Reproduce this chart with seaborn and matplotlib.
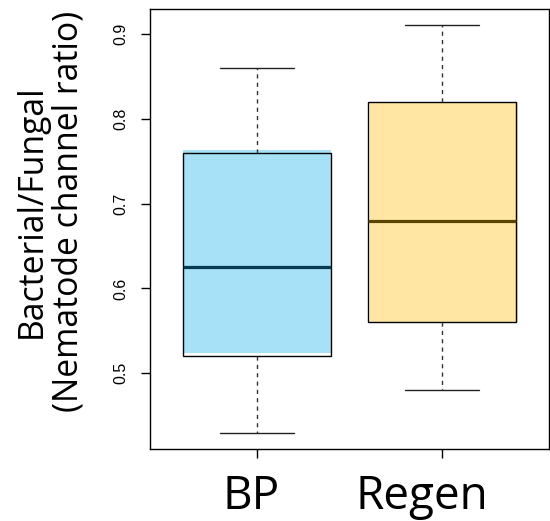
import numpy as np
import pandas as pd
import matplotlib
matplotlib.use("Agg")
import matplotlib.pyplot as plt
import matplotlib.transforms as mtransforms
from matplotlib.patches import PathPatch
import seaborn as sns

# Five-number summaries per site (min, Q1, median, Q3, max)
groups = ["BP", "Regen"]
bp_values = [0.43, 0.52, 0.625, 0.76, 0.86]
regen_values = [0.48, 0.56, 0.68, 0.82, 0.91]
fill_colors = ["#A6E1F8", "#FFE6A3"]
median_colors = ["#083A52", "#5A4300"]
y_ticks = [0.5, 0.6, 0.7, 0.8, 0.9]

df = pd.DataFrame({
    "site": ["BP"] * len(bp_values) + ["Regen"] * len(regen_values),
    "ratio": bp_values + regen_values,
})

sns.set_theme(style="white")
plt.rcParams["font.family"] = ["Open Sans", "DejaVu Sans"]
plt.rcParams["text.color"] = "black"
plt.rcParams["axes.labelcolor"] = "black"
plt.rcParams["xtick.color"] = "black"
plt.rcParams["ytick.color"] = "black"

fig = plt.figure(figsize=(5.5, 5.21), dpi=100)
ax = fig.add_axes([150 / 550, 1 - 449 / 521, 399 / 550, 440 / 521])

sns.boxplot(
    data=df, x="site", y="ratio", hue="site",
    order=groups, hue_order=groups, palette=fill_colors,
    width=0.8, saturation=1, linecolor="black", linewidth=1,
    showfliers=False, legend=False, ax=ax,
    whiskerprops=dict(linestyle=(0, (3, 3)), color="#333333", linewidth=1),
    capprops=dict(color="#222222", linewidth=1),
    boxprops=dict(edgecolor="black", linewidth=1),
    medianprops=dict(linewidth=2.3),
)

# Fill each box with a slightly misregistered colour layer under its outline
fill_shift_px = [(0, 3), (2, 0)]
for cont, col, fc, (dx, dy) in zip(ax.containers, median_colors, fill_colors, fill_shift_px):
    for m in cont.medians:
        m.set_color(col)
    for box in cont.boxes:
        box.set_facecolor("none")
        shift = mtransforms.ScaledTranslation(dx / 100, dy / 100, fig.dpi_scale_trans)
        layer = PathPatch(box.get_path(), facecolor=fc, edgecolor="none",
                          transform=box.get_transform() + shift,
                          zorder=box.get_zorder() - 0.1)
        ax.add_patch(layer)

ax.set_xlim(-0.578, 1.578)
ax.set_ylim(0.4108, 0.9292)
ax.set_yticks(y_ticks)
ax.set_yticklabels([f"{v:.1f}" for v in y_ticks], family="Liberation Sans",
                   fontsize=11.5, rotation=90, va="center")
ax.set_xticks([0, 1])
ax.set_xticklabels(groups, fontsize=33)
ax.tick_params(axis="both", direction="out", length=6.5, width=1, color="black",
               left=True, bottom=True)
ax.tick_params(axis="y", pad=9)
ax.tick_params(axis="x", pad=11.5)

label_shift_px = [-6, -20]
for lab, dx in zip(ax.get_xticklabels(), label_shift_px):
    lab.set_transform(lab.get_transform() +
                      mtransforms.ScaledTranslation(dx / 100, 0, fig.dpi_scale_trans))

ax.set_xlabel("")
ax.set_ylabel("Bacterial/Fungal\n(Nematode channel ratio)", fontsize=24.3,
              linespacing=1.08)
ax.yaxis.label.set(ha="center", va="center", rotation_mode="default")
ax.yaxis.set_label_coords((50 - 150) / 399, (449 - 211) / 440)

for s in ax.spines.values():
    s.set_color("black")
    s.set_linewidth(1)
    s.set_visible(True)

fig.savefig("out.png", dpi=100)
